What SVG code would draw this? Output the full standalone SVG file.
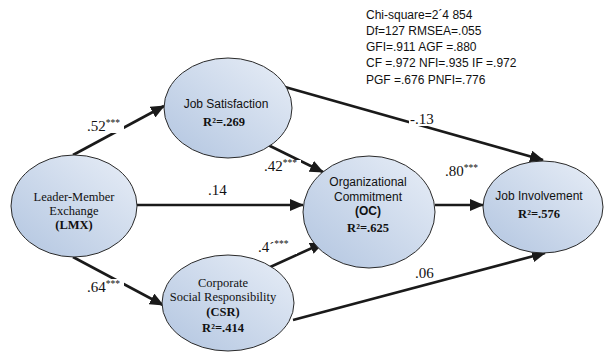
<svg xmlns="http://www.w3.org/2000/svg" width="604" height="353" viewBox="0 0 604 353">
<style>
.node{stroke:#2a2a2a;stroke-width:1;fill:url(#g)}
.edge{stroke:#1a1a1a;stroke-width:2.6;fill:none;marker-end:url(#ah)}
.lbl{font-family:"Liberation Serif",serif;font-size:15px;fill:#111}
.st{font-size:9.5px}
.bg{fill:#fff}
.serif{font-family:"Liberation Serif",serif;font-size:12.5px;fill:#111}
.sans{font-family:"Liberation Sans",sans-serif;font-size:12px;fill:#111}
.b{font-weight:bold}
.stat{font-family:"Liberation Sans",sans-serif;font-size:12px;fill:#111}
</style>
<defs>
<linearGradient id="g" x1="1" y1="0" x2="0" y2="1">
<stop offset="0" stop-color="#e8eef7"/>
<stop offset="1" stop-color="#b2c5e0"/>
</linearGradient>
<marker id="ah" markerUnits="userSpaceOnUse" markerWidth="14" markerHeight="12" refX="13" refY="6" orient="auto">
<path d="M0,0 L14,6 L0,12 Z" fill="#1a1a1a"/>
</marker>
</defs>
<rect width="604" height="353" fill="#fff"/>
<g id="connectors">
<line class="edge" x1="73" y1="155" x2="164" y2="106"/>
<line class="edge" x1="73" y1="257" x2="163" y2="305"/>
<line class="edge" x1="137" y1="205" x2="303" y2="205"/>
<line class="edge" x1="266" y1="144" x2="323" y2="172"/>
<line class="edge" x1="268" y1="268" x2="323" y2="243"/>
<line class="edge" x1="285" y1="87" x2="543" y2="160"/>
<line class="edge" x1="435" y1="205" x2="483" y2="205"/>
<line class="edge" x1="293" y1="320" x2="545" y2="253"/>
<rect class="bg" x="86" y="118" width="38" height="15"/>
<text class="lbl" x="87" y="131">.52<tspan class="st" dy="-5">***</tspan></text>
<rect class="bg" x="86" y="279" width="38" height="15"/>
<text class="lbl" x="87" y="292">.64<tspan class="st" dy="-5">***</tspan></text>
<text class="lbl" x="208" y="195">.14</text>
<rect class="bg" x="263" y="160" width="38" height="11"/>
<text class="lbl" x="264" y="171">.42<tspan class="st" dy="-5">***</tspan></text>
<rect class="bg" x="257" y="239" width="40" height="15"/>
<text class="lbl" x="258" y="252">.4´<tspan class="st" dy="-5">***</tspan></text>
<text class="lbl" x="445" y="176">.80<tspan class="st" dy="-5">***</tspan></text>
<rect class="bg" x="409" y="112" width="24" height="14"/>
<text class="lbl" x="410" y="124">-.13</text>
<rect class="bg" x="414" y="265" width="24" height="15"/>
<text class="lbl" x="415" y="278">.06</text>
</g>
<g id="lmx">
<ellipse class="node" cx="74" cy="206" rx="63" ry="51"/>
<text class="serif" x="74" y="201" text-anchor="middle">Leader-Member</text>
<text class="serif" x="74" y="215" text-anchor="middle">Exchange</text>
<text class="serif b" x="74" y="229" text-anchor="middle">(LMX)</text>
</g>
<g id="js">
<ellipse class="node" cx="228" cy="108" rx="64" ry="50"/>
<text class="sans" x="226" y="108" text-anchor="middle">Job Satisfaction</text>
<text class="serif b" x="224" y="126" text-anchor="middle">R²=.269</text>
</g>
<g id="oc">
<ellipse class="node" cx="369" cy="212" rx="66" ry="56"/>
<text class="sans" x="368" y="186" text-anchor="middle">Organizational</text>
<text class="sans" x="368" y="201" text-anchor="middle">Commitment</text>
<text class="sans b" x="368" y="215" text-anchor="middle">(OC)</text>
<text class="serif b" x="368" y="232" text-anchor="middle">R²=.625</text>
</g>
<g id="csr">
<ellipse class="node" cx="228" cy="303" rx="66" ry="48"/>
<text class="serif" x="223" y="287" text-anchor="middle">Corporate</text>
<text class="serif" x="223" y="301" text-anchor="middle">Social Responsibility</text>
<text class="serif b" x="223" y="316" text-anchor="middle">(CSR)</text>
<text class="serif b" x="223" y="332" text-anchor="middle">R²=.414</text>
</g>
<g id="ji">
<ellipse class="node" cx="543" cy="207" rx="60" ry="46"/>
<text class="sans" x="539" y="200" text-anchor="middle">Job Involvement</text>
<text class="serif b" x="539" y="218" text-anchor="middle">R²=.576</text>
</g>
<g id="stats">
<text class="stat" x="366" y="19">Chi-square=2´4 854</text>
<text class="stat" x="366" y="35">Df=127 RMSEA=.055</text>
<text class="stat" x="366" y="51">GFI=.911 AGF =.880</text>
<text class="stat" x="366" y="67">CF =.972 NFI=.935 IF =.972</text>
<text class="stat" x="366" y="84">PGF =.676 PNFI=.776</text>
</g>
</svg>
